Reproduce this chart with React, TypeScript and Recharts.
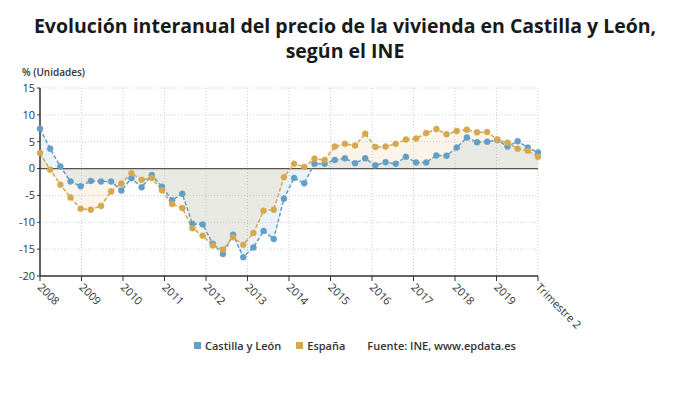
import React from "react";
import {
  ComposedChart,
  Area,
  Line,
  XAxis,
  YAxis,
  CartesianGrid,
  ReferenceLine,
} from "recharts";

const quarters = [
  "2008 T1", "2008 T2", "2008 T3", "2008 T4",
  "2009 T1", "2009 T2", "2009 T3", "2009 T4",
  "2010 T1", "2010 T2", "2010 T3", "2010 T4",
  "2011 T1", "2011 T2", "2011 T3", "2011 T4",
  "2012 T1", "2012 T2", "2012 T3", "2012 T4",
  "2013 T1", "2013 T2", "2013 T3", "2013 T4",
  "2014 T1", "2014 T2", "2014 T3", "2014 T4",
  "2015 T1", "2015 T2", "2015 T3", "2015 T4",
  "2016 T1", "2016 T2", "2016 T3", "2016 T4",
  "2017 T1", "2017 T2", "2017 T3", "2017 T4",
  "2018 T1", "2018 T2", "2018 T3", "2018 T4",
  "2019 T1", "2019 T2", "2019 T3", "2019 T4",
  "2020 T1", "2020 T2",
];

const castillaLeon = [
  7.4, 3.7, 0.4, -2.4, -3.3, -2.3, -2.4, -2.4, -4.1, -1.8,
  -3.5, -1.2, -3.4, -5.9, -4.7, -10.3, -10.4, -14.0, -15.9, -12.3,
  -16.5, -14.7, -11.6, -13.1, -5.6, -1.75, -2.75, 0.9, 0.9, 1.6,
  1.9, 1.0, 1.9, 0.6, 1.2, 0.9, 2.2, 1.15, 1.15, 2.45,
  2.4, 3.9, 5.8, 4.9, 5.0, 5.3, 4.1, 5.1, 3.9, 3.0,
];

const espana = [
  2.9, -0.2, -3.0, -5.4, -7.5, -7.65, -6.95, -4.25, -2.8, -0.85,
  -2.1, -1.75, -4.05, -6.6, -7.35, -11.1, -12.5, -14.3, -15.1, -12.8,
  -14.2, -12.0, -7.85, -7.65, -1.6, 0.9, 0.3, 1.85, 1.6, 4.1,
  4.6, 4.3, 6.5, 4.0, 4.1, 4.6, 5.4, 5.6, 6.6, 7.35,
  6.4, 7.0, 7.25, 6.75, 6.8, 5.4, 4.8, 3.7, 3.3, 2.2,
];

const xTickLabels = [
  "2008", "2009", "2010", "2011", "2012", "2013", "2014",
  "2015", "2016", "2017", "2018", "2019", "Trimestre 2",
];

const yTicks = [-20, -15, -10, -5, 0, 5, 10, 15];

const BLUE = "#629fc4";
const GOLD = "#d5a84f";

const data = quarters.map((q, i) => ({
  idx: i,
  quarter: q,
  cyl: castillaLeon[i],
  esp: espana[i],
}));

const lastIdx = quarters.length - 1;
const xTicks = xTickLabels.map(
  (_, k) => (k * lastIdx) / (xTickLabels.length - 1)
);

const labelFor = (v: number) => {
  const k = Math.round((v * (xTickLabels.length - 1)) / lastIdx);
  return xTickLabels[k] ?? "";
};

const FONT = "'Open Sans', sans-serif";

const XTick = (props: any) => {
  const { x, y, payload } = props;
  const ax = x - 3;
  const ay = y + 5;
  return (
    <text
      x={ax}
      y={ay}
      transform={`rotate(45 ${ax} ${ay})`}
      textAnchor="start"
      fontSize={11}
      fill="#333"
      fontFamily={FONT}
    >
      {labelFor(payload.value)}
    </text>
  );
};

export default function App() {
  return (
    <div
      style={{
        position: "absolute",
        left: 0,
        top: 0,
        width: 690,
        height: 406,
        background: "#fff",
        fontFamily: FONT,
        overflow: "hidden",
      }}
    >
      <div
        style={{
          position: "absolute",
          top: 13,
          left: 0,
          width: 690,
          textAlign: "center",
          fontSize: 19.5,
          fontWeight: 700,
          lineHeight: "25px",
          color: "#1a1a1a",
        }}
      >
        Evolución interanual del precio de la vivienda en Castilla y León,
        <br />
        según el INE
      </div>
      <div
        style={{
          position: "absolute",
          top: 67,
          left: 22,
          fontSize: 10,
          lineHeight: "10px",
          fontWeight: 600,
          color: "#333",
        }}
      >
        % (Unidades)
      </div>
      <div style={{ position: "absolute", left: 0, top: 0 }}>
        <ComposedChart
          width={690}
          height={406}
          data={data}
          margin={{ top: 88, right: 152, bottom: 90, left: 10 }}
        >
          <CartesianGrid
            stroke="#cfcfcf"
            strokeDasharray="1 2"
            horizontal={true}
            vertical={true}
          />
          <XAxis
            type="number"
            dataKey="idx"
            domain={[0, lastIdx]}
            ticks={xTicks}
            interval={0}
            height={40}
            tick={<XTick />}
            tickSize={5}
            axisLine={{ stroke: "#333", strokeWidth: 1.5 }}
            tickLine={{ stroke: "#333" }}
          />
          <YAxis
            type="number"
            domain={[-20, 15]}
            ticks={yTicks}
            interval={0}
            width={30}
            tick={{ fontSize: 11, fill: "#333", fontFamily: FONT }}
            tickSize={3}
            axisLine={{ stroke: "#333", strokeWidth: 1.5 }}
            tickLine={{ stroke: "#333" }}
          />
          <Area
            type="linear"
            dataKey="cyl"
            baseValue={0}
            stroke="none"
            fill={BLUE}
            fillOpacity={0.12}
            dot={false}
            activeDot={false}
            isAnimationActive={false}
          />
          <Area
            type="linear"
            dataKey="esp"
            baseValue={0}
            stroke="none"
            fill={GOLD}
            fillOpacity={0.12}
            dot={false}
            activeDot={false}
            isAnimationActive={false}
          />
          <ReferenceLine y={0} stroke="#555" strokeWidth={1.2} />
          <Line
            type="linear"
            dataKey="cyl"
            name="Castilla y León"
            stroke={BLUE}
            strokeWidth={1.5}
            strokeDasharray="4 2"
            dot={{ r: 3, fill: BLUE, stroke: BLUE, strokeWidth: 0.5, strokeDasharray: "" }}
            activeDot={false}
            isAnimationActive={false}
          />
          <Line
            type="linear"
            dataKey="esp"
            name="España"
            stroke={GOLD}
            strokeWidth={1.5}
            strokeDasharray="4 2"
            dot={{ r: 3, fill: GOLD, stroke: GOLD, strokeWidth: 0.5, strokeDasharray: "" }}
            activeDot={false}
            isAnimationActive={false}
          />
        </ComposedChart>
      </div>
      <div
        style={{
          position: "absolute",
          top: 338,
          left: 194,
          display: "flex",
          alignItems: "center",
          fontSize: 11,
          fontWeight: 600,
          color: "#333",
          whiteSpace: "nowrap",
        }}
      >
        <span
          style={{
            display: "inline-block",
            width: 7,
            height: 7,
            background: BLUE,
            marginRight: 4,
          }}
        />
        <span>Castilla y León</span>
        <span
          style={{
            display: "inline-block",
            width: 7,
            height: 7,
            background: GOLD,
            marginLeft: 15,
            marginRight: 4,
          }}
        />
        <span>España</span>
        <span style={{ marginLeft: 22 }}>Fuente: INE, www.epdata.es</span>
      </div>
    </div>
  );
}
